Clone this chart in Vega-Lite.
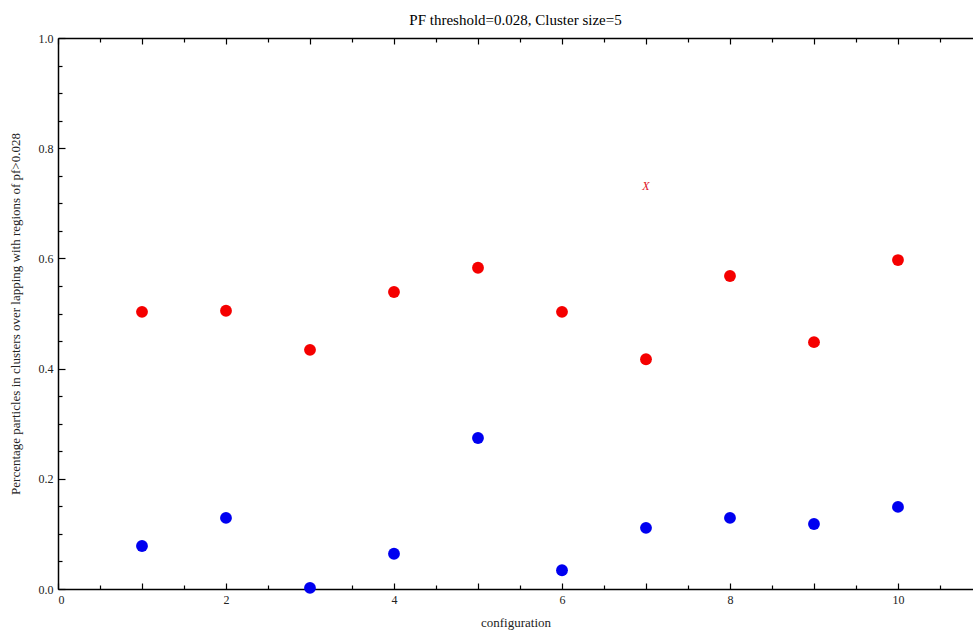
{
  "$schema": "https://vega.github.io/schema/vega-lite/v6.json",
  "width": 915,
  "height": 551,
  "autosize": {"type": "none"},
  "padding": {"left": 58, "top": 38, "right": 0, "bottom": 41},
  "background": "white",
  "title": {"text": "PF threshold=0.028, Cluster size=5", "font": "Liberation Serif", "fontSize": 15, "fontWeight": "normal", "color": "black", "offset": 4, "anchor": "middle"},
  "config": {
    "view": {"stroke": null},
    "axis": {
      "domainColor": "black",
      "domainWidth": 1.5,
      "tickColor": "black",
      "tickWidth": 1.2,
      "grid": false,
      "labelFont": "Liberation Serif",
      "labelFontSize": 12,
      "labelColor": "#222",
      "titleFont": "Liberation Serif",
      "titleFontSize": 13,
      "titleFontWeight": "normal",
      "titleColor": "#222"
    }
  },
  "layer": [
    {
      "data": {"values": [
        {"configuration": 1, "value": 0.503, "series": "red"},
        {"configuration": 2, "value": 0.505, "series": "red"},
        {"configuration": 3, "value": 0.434, "series": "red"},
        {"configuration": 4, "value": 0.539, "series": "red"},
        {"configuration": 5, "value": 0.583, "series": "red"},
        {"configuration": 6, "value": 0.503, "series": "red"},
        {"configuration": 7, "value": 0.417, "series": "red"},
        {"configuration": 8, "value": 0.568, "series": "red"},
        {"configuration": 9, "value": 0.448, "series": "red"},
        {"configuration": 10, "value": 0.597, "series": "red"},
        {"configuration": 1, "value": 0.078, "series": "blue"},
        {"configuration": 2, "value": 0.129, "series": "blue"},
        {"configuration": 3, "value": 0.002, "series": "blue"},
        {"configuration": 4, "value": 0.064, "series": "blue"},
        {"configuration": 5, "value": 0.274, "series": "blue"},
        {"configuration": 6, "value": 0.034, "series": "blue"},
        {"configuration": 7, "value": 0.111, "series": "blue"},
        {"configuration": 8, "value": 0.129, "series": "blue"},
        {"configuration": 9, "value": 0.118, "series": "blue"},
        {"configuration": 10, "value": 0.149, "series": "blue"}
      ]},
      "mark": {"type": "circle", "size": 140, "opacity": 1},
      "encoding": {
        "x": {
          "field": "configuration", "type": "quantitative",
          "scale": {"domain": [0, 10.893], "nice": false, "zero": false},
          "axis": {
            "orient": "bottom",
            "title": "configuration",
            "values": [0, 0.5, 1, 1.5, 2, 2.5, 3, 3.5, 4, 4.5, 5, 5.5, 6, 6.5, 7, 7.5, 8, 8.5, 9, 9.5, 10, 10.5],
            "labelExpr": "datum.value % 2 === 0 ? format(datum.value, 'd') : ''",
            "tickSize": {"condition": {"test": "datum.value % 1 === 0", "value": -6}, "value": -4},
            "labelPadding": 11,
            "titlePadding": 11
          }
        },
        "y": {
          "field": "value", "type": "quantitative",
          "scale": {"domain": [0, 1], "nice": false},
          "axis": {
            "orient": "left",
            "title": "Percentage particles in clusters over lapping with regions of  pf>0.028",
            "values": [0, 0.05, 0.1, 0.15, 0.2, 0.25, 0.3, 0.35, 0.4, 0.45, 0.5, 0.55, 0.6, 0.65, 0.7, 0.75, 0.8, 0.85, 0.9, 0.95, 1],
            "labelExpr": "abs(datum.value * 5 - round(datum.value * 5)) < 0.0001 ? format(datum.value, '.1f') : ''",
            "tickSize": {"condition": {"test": "abs(datum.value * 5 - round(datum.value * 5)) < 0.0001", "value": -7}, "value": -4},
            "labelPadding": 12,
            "titlePadding": 16
          }
        },
        "color": {
          "field": "series", "type": "nominal",
          "scale": {"domain": ["red", "blue"], "range": ["#f50000", "#0000f0"]},
          "legend": null
        }
      }
    },
    {
      "data": {"values": [{"configuration": 7, "value": 0.731, "label": "X"}]},
      "mark": {"type": "text", "font": "Liberation Serif", "fontStyle": "italic", "fontSize": 12, "color": "#e0101e"},
      "encoding": {
        "x": {
          "field": "configuration", "type": "quantitative",
          "scale": {"domain": [0, 10.893], "nice": false, "zero": false},
          "axis": {
            "orient": "top",
            "title": null,
            "labels": false,
            "values": [0, 0.5, 1, 1.5, 2, 2.5, 3, 3.5, 4, 4.5, 5, 5.5, 6, 6.5, 7, 7.5, 8, 8.5, 9, 9.5, 10, 10.5],
            "tickSize": {"condition": {"test": "datum.value % 1 === 0", "value": -6}, "value": -4}
          }
        },
        "y": {
          "field": "value", "type": "quantitative",
          "scale": {"domain": [0, 1], "nice": false},
          "axis": null
        },
        "text": {"field": "label"}
      }
    }
  ],
  "resolve": {"axis": {"x": "independent", "y": "independent"}}
}
